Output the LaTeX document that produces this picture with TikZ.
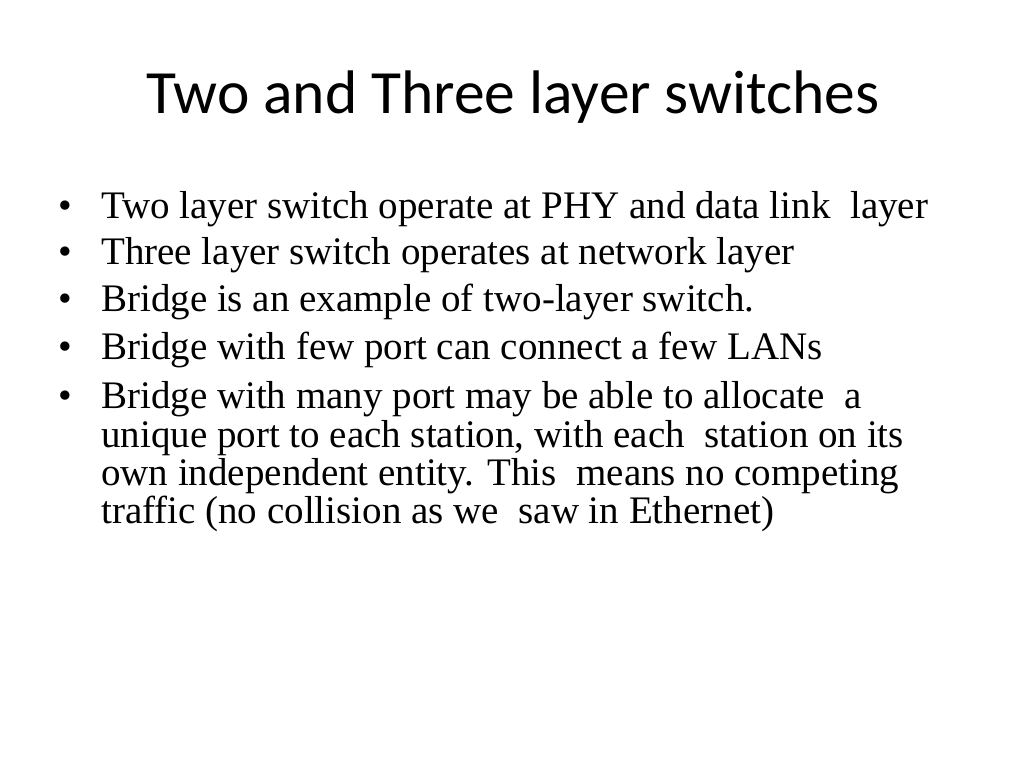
\documentclass[tikz,border=0pt]{standalone}
\usepackage{fontspec}
\setmainfont{Liberation Serif}
\newfontfamily\titlefont{Carlito}
\begin{document}
\begin{tikzpicture}[x=1pt,y=-1pt,
  body/.style={anchor=base west,inner sep=0pt,font=\fontsize{39}{42}\selectfont},
  bul/.style={anchor=base west,inner sep=0pt,font=\fontsize{39}{42}\selectfont}]
\useasboundingbox (0,0) rectangle (1024,768);
\node[anchor=base,inner sep=0pt,font=\titlefont\fontsize{61.5}{66}\selectfont] (title) at (513,113) {Two and Three layer switches};
\foreach \y/\t [count=\i] in {218/{Two layer switch operate at PHY and data link\ \ layer},
  264/{Three layer switch operates at network layer},
  311/{Bridge is an example of two-layer switch.},
  359/{Bridge with few port can connect a few LANs},
  408/{Bridge with many port may be able to allocate\ \ a}}{
  \node[bul] (b\i) at (58,\y) {\textbullet};
  \node[body] (l\i) at (101,\y) {\t};
}
\node[body] (l6) at (101,447) {unique port to each station, with each\ \ station on its};
\node[body] (l7) at (101,485) {own independent entity. This\ \ means no competing};
\node[body] (l8) at (101,523) {traffic (no collision as we\ \ saw in Ethernet)};
\end{tikzpicture}
\end{document}
